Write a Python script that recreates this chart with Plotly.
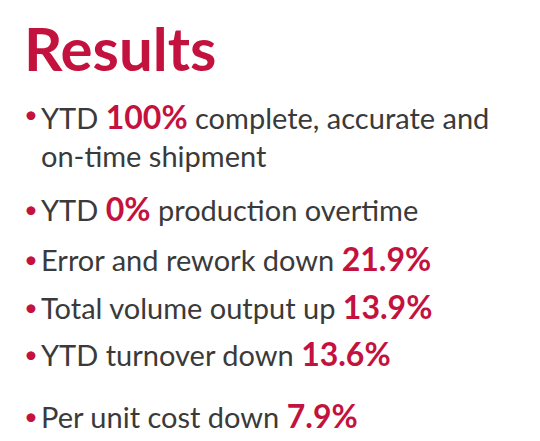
import plotly.graph_objects as go

title = "Results"
prefixes = ["YTD ", "YTD ", "Error and rework down ", "Total volume output up ",
            "YTD turnover down ", "Per unit cost down "]
values = ["100%", "0%", "21.9%", "13.9%", "13.6%", "7.9%"]
suffixes = [" complete, accurate and<br>on-time shipment", " production overtime", "", "", "", ""]

RED = "#c4123f"
GREY = "#3a3a3a"
W, H = 540, 441

# vertical centre (pixels) of each item
centres = [127, 200, 250, 298, 345, 407]

fig = go.Figure()
fig.add_annotation(x=14 / W, y=1 - 40 / H, xref="paper", yref="paper", xanchor="left", yanchor="middle",
                   text="<b>" + title + "</b>", showarrow=False,
                   font=dict(family="Lato", size=60, color=RED))

for c, pre, val, suf in zip(centres, prefixes, values, suffixes):
    bullet_y = c - 22 if suf.count("<br>") else c
    fig.add_annotation(x=14 / W, y=1 - bullet_y / H, xref="paper", yref="paper", xanchor="left",
                       yanchor="middle", text="•", showarrow=False,
                       font=dict(family="Lato", size=24, color=RED))
    txt = pre + f"<span style='color:{RED};font-size:32px'><b>{val}</b></span>" + suf
    fig.add_annotation(x=31 / W, y=1 - c / H, xref="paper", yref="paper", xanchor="left", yanchor="middle",
                       text=txt, showarrow=False, align="left",
                       font=dict(family="Lato", size=29, color=GREY))

fig.update_xaxes(visible=False, range=[0, 1])
fig.update_yaxes(visible=False, range=[0, 1])
fig.update_layout(width=W, height=H, margin=dict(l=0, r=0, t=0, b=0),
                  plot_bgcolor="white", paper_bgcolor="white")
fig.write_html("out.html")
